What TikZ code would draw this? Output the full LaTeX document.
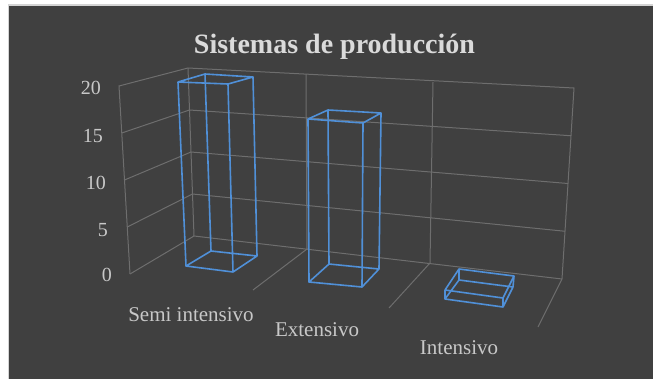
\documentclass[tikz,border=0pt]{standalone}
\usepackage{fontspec}
\setmainfont{Liberation Serif}
\usetikzlibrary{calc}
\definecolor{bg}{HTML}{404040}
\definecolor{framec}{HTML}{D4D4D4}
\definecolor{gridc}{HTML}{6E6E6E}
\definecolor{barc}{HTML}{5090D8}
\definecolor{txtc}{HTML}{C8C8C8}
\definecolor{titlec}{HTML}{DADADA}
\tikzset{
  gridline/.style={draw=gridc, line width=1pt},
  barline/.style={draw=barc, line width=1.6pt, line join=round},
  vallabel/.style={anchor=base east, inner sep=0pt, text=txtc, font=\fontsize{20}{24}\selectfont},
  catlabel/.style={anchor=base, inner sep=0pt, text=txtc, font=\fontsize{21}{25}\selectfont},
}
\newcommand{\wirebox}[8]{%
  \draw[barline] (#1)--(#2)--(#3)--(#4)--cycle;
  \draw[barline] (#5)--(#6)--(#7)--(#8)--cycle;
  \draw[barline] (#1)--(#5) (#2)--(#6) (#3)--(#7) (#4)--(#8);
}
\begin{document}
\begin{tikzpicture}[x=1pt,y=-1pt]
\useasboundingbox (0,0) rectangle (653,378);
\fill[white] (0,0) rectangle (653,378);
\fill[bg] (8.5,5) rectangle (660,385);
\draw[framec, line width=1.5pt] (8.5,385) -- (8.5,5) -- (660,5);
% walls
\coordinate (LFt) at (119,86);
\coordinate (LFb) at (130,274);
\coordinate (BLt) at (188,68);
\coordinate (BLb) at (194,236);
\coordinate (BRt) at (574,88);
\coordinate (BRb) at (562,279);
\coordinate (V1t) at (306,74);
\coordinate (V1b) at (307,249);
\coordinate (V2t) at (433,82);
\coordinate (V2b) at (430,263);
\coordinate (F1) at (253,290);
\coordinate (F2) at (389,308);
\coordinate (F3) at (538,327);
\draw[gridline] (LFb) -- (LFt) -- (BLt) -- (BRt) -- (BRb);
\draw[gridline] (BLt) -- (BLb);
\draw[gridline] (LFb) -- (BLb) -- (BRb);
\draw[gridline] (V1t) -- (V1b) -- (F1);
\draw[gridline] (V2t) -- (V2b) -- (F2);
\draw[gridline] (BRb) -- (F3);
\foreach \t in {0.25,0.5,0.75}{
  \draw[gridline] ($(LFt)!\t!(LFb)$) -- ($(BLt)!\t!(BLb)$) -- ($(BRt)!\t!(BRb)$);
}
% value labels
\node[vallabel] (v20) at (101,94) {20};
\node[vallabel] (v15) at (103,142) {15};
\node[vallabel] (v10) at (106,189) {10};
\node[vallabel] (v5) at (108,236) {5};
\node[vallabel] (v0) at (112,281) {0};
% bars
\wirebox{178,82}{205,74}{253,77}{228,84}{186,266}{211,251}{257,256}{233,272}
\wirebox{308,119}{328,110}{381,113}{363,123}{309,282}{329,264}{379,269}{362,287}
\wirebox{445,290}{459,269}{514,276}{503,298}{445,299}{459,280}{513,287}{503,307}
% category labels
\node[catlabel] (c1) at (191,321) {Semi intensivo};
\node[catlabel] (c2) at (317,336) {Extensivo};
\node[catlabel] (c3) at (459,354) {Intensivo};
% title
\node[anchor=base, inner sep=0pt, text=titlec, font=\fontsize{28}{32}\selectfont\bfseries] (title) at (334.5,53) {Sistemas de producción};
\end{tikzpicture}
\end{document}
